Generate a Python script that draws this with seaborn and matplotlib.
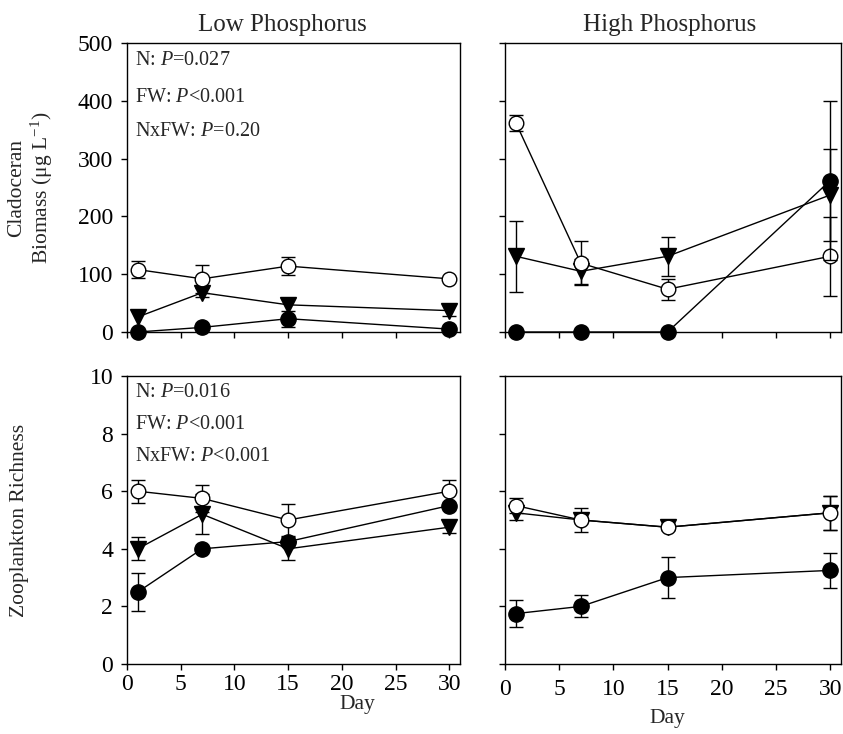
import matplotlib
matplotlib.use("Agg")
import matplotlib.pyplot as plt
import seaborn as sns
import numpy as np
import pandas as pd

sns.set_theme(style="ticks")
plt.rcParams['font.family'] = ['Liberation Serif', 'DejaVu Serif']
plt.rcParams['mathtext.fontset'] = 'custom'
plt.rcParams['mathtext.rm'] = 'Liberation Serif'
plt.rcParams['mathtext.it'] = 'Liberation Serif:italic'

days = [1, 7, 15, 30]

# Cladoceran biomass, Low P
bio_low_open = [108, 92, 114, 92]
bio_low_open_err = [15, 24, 15, 0]
bio_low_tri = [26, 68, 47, 37]
bio_low_tri_err = [0, 8, 0, 9]
bio_low_fill = [0, 8, 23, 5]
bio_low_fill_err = [0, 0, 14, 0]

# Cladoceran biomass, High P
bio_high_open = [362, 119, 74, 131]
bio_high_open_err = [14, 38, 18, 68]
bio_high_tri = [131, 105, 131, 237]
bio_high_tri_err = [61, 22, 34, 80]
bio_high_fill = [0, 0, 0, 262]
bio_high_fill_err = [0, 0, 0, 137]

# Zooplankton richness, Low P
ric_low_open = [6.0, 5.75, 5.0, 6.0]
ric_low_open_err = [0.4, 0.47, 0.55, 0.4]
ric_low_tri = [4.0, 5.2, 4.0, 4.75]
ric_low_tri_err = [0.4, 0.7, 0.4, 0.2]
ric_low_fill = [2.5, 4.0, 4.25, 5.5]
ric_low_fill_err = [0.65, 0.0, 0.1, 0.0]

# Zooplankton richness, High P
ric_high_open = [5.5, 5.0, 4.75, 5.25]
ric_high_open_err = [0.27, 0.1, 0.1, 0.6]
ric_high_tri = [5.25, 5.0, 4.75, 5.25]
ric_high_tri_err = [0.25, 0.42, 0.1, 0.6]
ric_high_fill = [1.75, 2.0, 3.0, 3.25]
ric_high_fill_err = [0.47, 0.38, 0.7, 0.62]

titles = ["Low Phosphorus", "High Phosphorus"]
stats_bio = ["N: $P$=0.027", "FW: $P$<0.001", "NxFW: $P$=0.20"]
stats_ric = ["N: $P$=0.016", "FW: $P$<0.001", "NxFW: $P$<0.001"]

W, H = 843, 734
fig = plt.figure(figsize=(W / 100, H / 100), dpi=100)

def axpos(l, t, r, b):
    return [l / W, 1 - b / H, (r - l) / W, (b - t) / H]

ax_tl = fig.add_axes(axpos(127, 43, 460, 332))
ax_tr = fig.add_axes(axpos(505, 43, 841, 332))
ax_bl = fig.add_axes(axpos(127, 376, 460, 664))
ax_br = fig.add_axes(axpos(505, 376, 841, 664))

def draw(ax, series):
    for vals, errs, style in series:
        df = pd.DataFrame({"day": days, "val": vals, "err": errs})
        if style == "open":
            kw = dict(marker="o", markerfacecolor="white", markeredgecolor="black",
                      markersize=10.5, markeredgewidth=1.0)
            z = 4
        elif style == "tri":
            kw = dict(marker="v", markerfacecolor="black", markeredgecolor="black",
                      markersize=11, markeredgewidth=1.0)
            z = 3
        else:
            kw = dict(marker="o", markerfacecolor="black", markeredgecolor="black",
                      markersize=11, markeredgewidth=1.0)
            z = 5
        mask = df["err"] > 0
        ax.errorbar(df.loc[mask, "day"], df.loc[mask, "val"], yerr=df.loc[mask, "err"],
                    fmt="none", ecolor="black", elinewidth=1.0, capsize=5,
                    capthick=1.0, zorder=z - 0.5, clip_on=False)
        sns.lineplot(data=df, x="day", y="val", ax=ax, color="black", linewidth=1.0,
                     errorbar=None, zorder=z, clip_on=False, **kw)

draw(ax_tl, [(bio_low_open, bio_low_open_err, "open"),
             (bio_low_tri, bio_low_tri_err, "tri"),
             (bio_low_fill, bio_low_fill_err, "fill")])
draw(ax_tr, [(bio_high_open, bio_high_open_err, "open"),
             (bio_high_tri, bio_high_tri_err, "tri"),
             (bio_high_fill, bio_high_fill_err, "fill")])
draw(ax_bl, [(ric_low_open, ric_low_open_err, "open"),
             (ric_low_tri, ric_low_tri_err, "tri"),
             (ric_low_fill, ric_low_fill_err, "fill")])
draw(ax_br, [(ric_high_open, ric_high_open_err, "open"),
             (ric_high_tri, ric_high_tri_err, "tri"),
             (ric_high_fill, ric_high_fill_err, "fill")])

for ax in [ax_tl, ax_tr, ax_bl, ax_br]:
    ax.set_xlim(0, 31)
    ax.set_xticks([0, 5, 10, 15, 20, 25, 30])
    ax.set_xlabel("")
    ax.set_ylabel("")
    for s in ax.spines.values():
        s.set_visible(True)
        s.set_linewidth(1.0)
        s.set_color("black")
    ax.tick_params(direction="out", length=4, width=1.0, colors="black",
                   labelsize=17)
    ax.tick_params(axis="y", pad=6)
    ax.tick_params(axis="x", pad=3)

for ax in [ax_tl, ax_tr]:
    ax.set_ylim(0, 500)
    ax.set_yticks([0, 100, 200, 300, 400, 500])
    ax.tick_params(axis="x", labelbottom=False)
for ax in [ax_bl, ax_br]:
    ax.set_ylim(0, 10)
    ax.set_yticks([0, 2, 4, 6, 8, 10])
for ax in [ax_tr, ax_br]:
    ax.tick_params(axis="y", labelleft=False)
ax_br.tick_params(axis="x", pad=7)

ax_tl.set_title(titles[0], fontsize=18, pad=9, x=0.468)
ax_tr.set_title(titles[1], fontsize=18, pad=9, x=0.49)

for txt, yy in zip(stats_bio, [0.94, 0.81, 0.695]):
    ax_tl.text(0.024, yy, txt, transform=ax_tl.transAxes, fontsize=14.5,
               ha="left", va="center")
for txt, yy in zip(stats_ric, [0.941, 0.83, 0.719]):
    ax_bl.text(0.024, yy, txt, transform=ax_bl.transAxes, fontsize=14.5,
               ha="left", va="center")

fig.text(31 / W, 1 - 188 / H, "Cladoceran\nBiomass (μg L$^{-1}$)", rotation=90,
         ha="center", va="center", fontsize=15.5, multialignment="center", linespacing=1.1)
fig.text(20 / W, 1 - 520 / H, "Zooplankton Richness", rotation=90,
         ha="center", va="center", fontsize=15.5)
fig.text(357 / W, 1 - 704 / H, "Day", ha="center", va="center", fontsize=15.5)
fig.text(667 / W, 1 - 719 / H, "Day", ha="center", va="center", fontsize=15.5)

fig.savefig("out.png", dpi=100)
